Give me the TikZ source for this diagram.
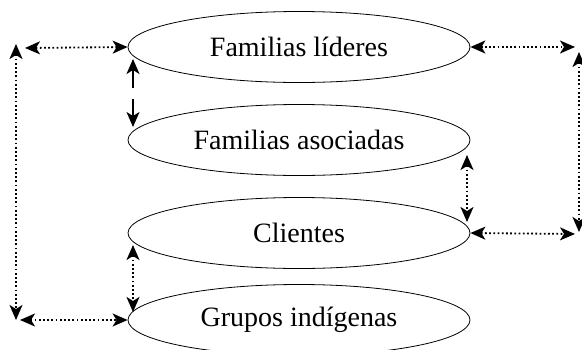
\documentclass[tikz,border=0pt]{standalone}
\usepackage{fontspec}
\setmainfont{Liberation Serif}
\usetikzlibrary{shapes.geometric,arrows.meta}
\tikzset{
  oval/.style={ellipse, draw, line width=0.8pt, minimum width=342pt, minimum height=71pt, inner sep=0pt, font=\fontsize{28}{30}\selectfont},
  dots/.style={line width=1.8pt, dash pattern=on 1.8pt off 2.4pt, {Stealth[length=15pt,width=13pt,inset=4pt]}-{Stealth[length=15pt,width=13pt,inset=4pt]}},
  solidarr/.style={line width=1.6pt, -{Stealth[length=15pt,width=13pt,inset=4pt]}}
}
\begin{document}
\begin{tikzpicture}[x=1pt,y=-1pt]
\useasboundingbox (0,0) rectangle (582,349);
\clip (0,0) rectangle (582,349);
\node[oval] (e1) at (299,47) {Familias líderes};
\node[oval] (e2) at (299,140) {Familias asociadas};
\node[oval] (e3) at (299,233) {Clientes};
\node[oval] (e4) at (299,320) {Grupos indígenas};
% outer corners
\coordinate (tl) at (25,48);
\coordinate (tlv) at (16,44);
\coordinate (blv) at (16,320);
\coordinate (bl) at (20,320);
\coordinate (tr) at (575,47);
\coordinate (trv) at (579,52);
\coordinate (brv) at (579,232);
\coordinate (br) at (575,234);
% inner vertical ends
\coordinate (s1a) at (133,88);
\coordinate (s1b) at (133,59);
\coordinate (s2a) at (133,99);
\coordinate (s2b) at (133,127);
\coordinate (r1) at (467,155);
\coordinate (r2) at (467,222);
\coordinate (l1) at (133,245);
\coordinate (l2) at (133,312);
\draw[dots] (e1.west) -- (tl);
\draw[dots] (tlv) -- (blv);
\draw[dots] (bl) -- (e4.west);
\draw[dots] (e1.east) -- (tr);
\draw[dots] (trv) -- (brv);
\draw[dots] (e3.east) -- (br);
\draw[solidarr] (s1a) -- (s1b);
\draw[solidarr] (s2a) -- (s2b);
\draw[dots] (r1) -- (r2);
\draw[dots] (l1) -- (l2);
\end{tikzpicture}
\end{document}
